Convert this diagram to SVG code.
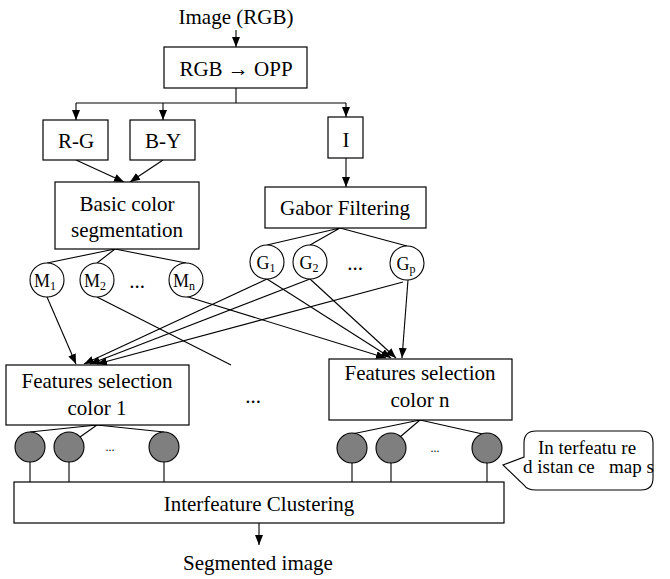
<svg xmlns="http://www.w3.org/2000/svg" width="670" height="579" viewBox="0 0 670 579">
<style>
text{font-family:"Liberation Serif","Times New Roman",serif;fill:#000;text-anchor:middle;font-size:21px}
.box{fill:#fff;stroke:#000;stroke-width:1.2}
.c{fill:#fff;stroke:#000;stroke-width:1.1}
.g{fill:#7f7f7f;stroke:#000;stroke-width:1.1}
.lbl{font-size:18px}
.sub{font-size:12px}
.dots{font-size:12px}
#connectors path,#connectors line{stroke:#000;stroke-width:1.1;fill:none}
.a{marker-end:url(#arr)}
</style>
<defs>
<marker id="arr" markerUnits="userSpaceOnUse" markerWidth="10" markerHeight="10" viewBox="0 0 10 10" refX="10" refY="5" orient="auto">
<path d="M0,1 L10,5 L0,9 Z" fill="#000"/>
</marker>
</defs>

<g id="connectors">
<line class="a" x1="236" y1="30" x2="236" y2="47"/>
<path d="M236,88 V103 M76,103 H346"/>
<line class="a" x1="76" y1="103" x2="76" y2="120"/>
<line class="a" x1="163" y1="103" x2="163" y2="120"/>
<line class="a" x1="346" y1="103" x2="346" y2="117"/>
<line class="a" x1="76" y1="160" x2="124" y2="182"/>
<line class="a" x1="163" y1="160" x2="130" y2="182"/>
<line class="a" x1="346" y1="158" x2="346" y2="187"/>
<path d="M47,263 L115,249 L97,263 M115,249 L186,263"/>
<path d="M267,245 L340,228 L310,245 M340,228 L407,246"/>
<line class="a" x1="47" y1="297" x2="76" y2="364"/>
<line class="a" x1="267" y1="279" x2="84" y2="364"/>
<line class="a" x1="310" y1="279" x2="90" y2="364"/>
<line class="a" x1="403" y1="282" x2="97" y2="364"/>
<line x1="97" y1="297" x2="231" y2="365"/>
<line class="a" x1="185" y1="296" x2="386" y2="358"/>
<line class="a" x1="267" y1="279" x2="391" y2="358"/>
<line class="a" x1="310" y1="279" x2="396" y2="358"/>
<line class="a" x1="408" y1="280" x2="402" y2="358"/>
<path d="M30,432 L97,425 L80,437 M97,425 L164,432"/>
<path d="M352,434 L420,420 L400,437 M420,420 L487,435"/>
<path d="M30,462 V482 M69,462 V482 M164,462 V482 M352,463 V482 M391,463 V482 M487,463 V482"/>
<line class="a" x1="259" y1="523" x2="259" y2="545"/>
</g>

<g id="input"><text x="236" y="24">Image (RGB)</text></g>
<g id="rgb2opp"><rect class="box" x="164" y="47" width="143" height="41"/><text x="236" y="76">RGB → OPP</text></g>
<g id="rg"><rect class="box" x="43" y="120" width="65" height="40"/><text x="76" y="148">R-G</text></g>
<g id="by"><rect class="box" x="130" y="120" width="65" height="40"/><text x="163" y="148">B-Y</text></g>
<g id="i"><rect class="box" x="328" y="117" width="35" height="41"/><text x="346" y="147">I</text></g>
<g id="basic"><rect class="box" x="55" y="182" width="144" height="67"/><text x="127" y="211">Basic color</text><text x="127" y="237">segmentation</text></g>
<g id="gabor"><rect class="box" x="265" y="187" width="161" height="41"/><text x="345" y="215">Gabor Filtering</text></g>

<g id="m1"><circle class="c" cx="47" cy="280" r="17"/><text class="lbl" x="45" y="287">M<tspan class="sub" dy="3">1</tspan></text></g>
<g id="m2"><circle class="c" cx="97" cy="280" r="17"/><text class="lbl" x="95" y="287">M<tspan class="sub" dy="3">2</tspan></text></g>
<g id="mdots"><text x="137" y="288">...</text></g>
<g id="mn"><circle class="c" cx="186" cy="280" r="17"/><text class="lbl" x="184" y="287">M<tspan class="sub" dy="3">n</tspan></text></g>

<g id="g1"><circle class="c" cx="267" cy="262" r="17"/><text class="lbl" x="266" y="269">G<tspan class="sub" dy="3">1</tspan></text></g>
<g id="g2"><circle class="c" cx="310" cy="262" r="17"/><text class="lbl" x="309" y="269">G<tspan class="sub" dy="3">2</tspan></text></g>
<g id="gdots"><text x="355" y="270">...</text></g>
<g id="gp"><circle class="c" cx="407" cy="263" r="17"/><text class="lbl" x="406" y="270">G<tspan class="sub" dy="3">p</tspan></text></g>

<g id="fs1"><rect class="box" x="6" y="365" width="183" height="60"/><text x="97" y="388">Features selection</text><text x="97" y="415">color 1</text></g>
<g id="middots"><text x="253" y="403">...</text></g>
<g id="fsn"><rect class="box" x="329" y="359" width="183" height="61"/><text x="420" y="380">Features selection</text><text x="420" y="407">color n</text></g>

<g id="f1a"><circle class="g" cx="30" cy="447" r="15"/></g>
<g id="f1b"><circle class="g" cx="69" cy="447" r="15"/></g>
<g id="f1dots"><text class="dots" x="110" y="451">...</text></g>
<g id="f1c"><circle class="g" cx="164" cy="447" r="15"/></g>
<g id="fna"><circle class="g" cx="352" cy="448" r="15"/></g>
<g id="fnb"><circle class="g" cx="391" cy="448" r="15"/></g>
<g id="fndots"><text class="dots" x="435" y="452">...</text></g>
<g id="fnc"><circle class="g" cx="487" cy="448" r="15"/></g>

<g id="callout">
<path d="M536,431 H641 Q653,431 653,443 V478 Q653,490 641,490 H536 Q527,490 524,485 L503,465 L524,457 V443 Q524,431 536,431 Z" fill="#fff" stroke="#000" stroke-width="1.1"/>
<text x="538" y="454" style="text-anchor:start;font-size:19px" xml:space="preserve">In terfeatu re</text>
<text x="523" y="473" style="text-anchor:start;font-size:19px" xml:space="preserve">d istan ce   map s</text>
</g>

<g id="clustering"><rect class="box" x="14" y="482" width="490" height="41"/><text x="259" y="511">Interfeature Clustering</text></g>
<g id="output"><text x="258" y="570">Segmented image</text></g>
</svg>
